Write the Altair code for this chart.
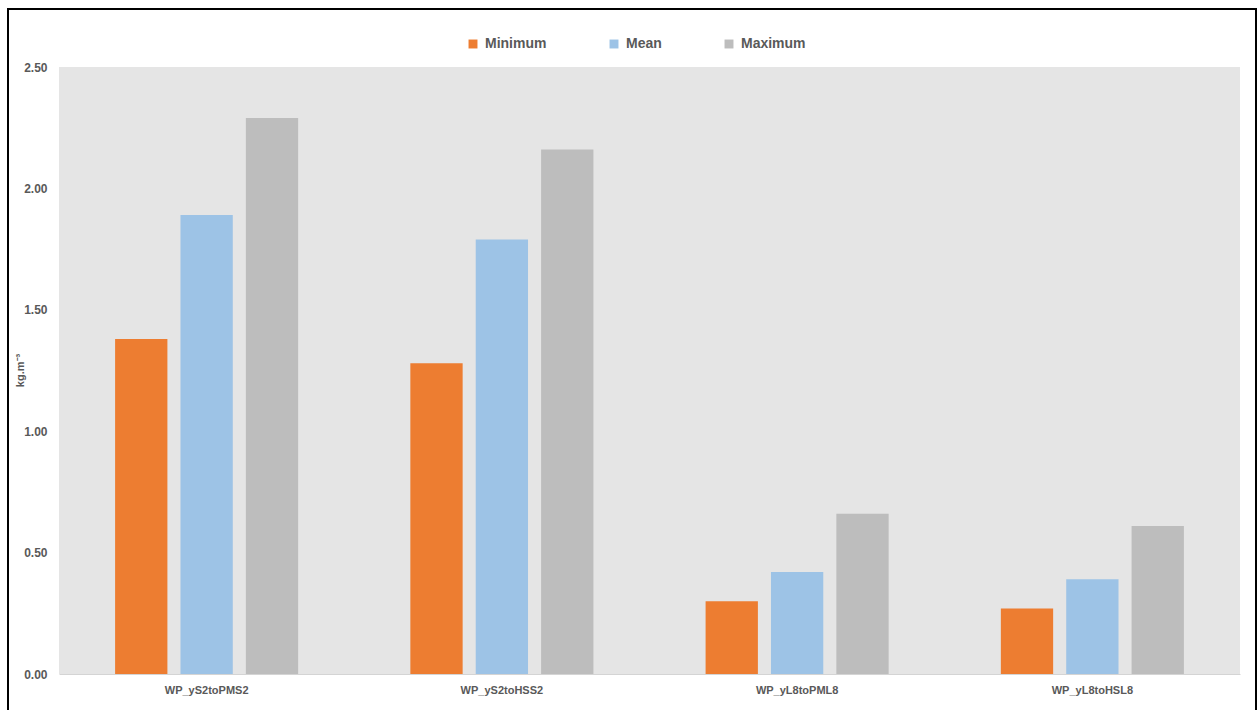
import altair as alt
import pandas as pd

# Water productivity per scenario (kg per cubic metre)
scenarios = ["WP_yS2toPMS2", "WP_yS2toHSS2", "WP_yL8toPML8", "WP_yL8toHSL8"]
stats = ["Minimum", "Mean", "Maximum"]
minimum = [1.38, 1.28, 0.30, 0.27]
mean = [1.89, 1.79, 0.42, 0.39]
maximum = [2.29, 2.16, 0.66, 0.61]
colors = ["#ED7D31", "#9DC3E6", "#BDBDBD"]
y_ticks = [0.0, 0.5, 1.0, 1.5, 2.0, 2.5]

rows = []
for i, s in enumerate(scenarios):
    for stat, series in zip(stats, [minimum, mean, maximum]):
        rows.append({"scenario": s, "stat": stat, "value": series[i]})
df = pd.DataFrame(rows)

FONT = "Liberation Sans"
TEXT_GRAY = "#595959"

bars = alt.Chart(df).mark_bar().encode(
    x=alt.X(
        "scenario:N",
        sort=scenarios,
        scale=alt.Scale(paddingInner=0.38, paddingOuter=0.19),
        axis=alt.Axis(
            title=None,
            labelAngle=0,
            labelFont=FONT,
            labelFontSize=11,
            labelFontWeight="bold",
            labelColor=TEXT_GRAY,
            labelPadding=10,
            ticks=False,
            domain=True,
            domainColor="#d4d4d4",
            domainWidth=1,
        ),
    ),
    xOffset=alt.XOffset(
        "stat:N",
        sort=stats,
        scale=alt.Scale(paddingInner=0.2, paddingOuter=0),
    ),
    y=alt.Y(
        "value:Q",
        scale=alt.Scale(domain=[0, 2.5], nice=False),
        axis=alt.Axis(
            title="kg.m\u207b\u00b3",
            titleFont=FONT,
            titleFontSize=11,
            titleFontWeight="bold",
            titleColor=TEXT_GRAY,
            titleAngle=-90,
            titleX=-39,
            titleY=303,
            titleAlign="center",
            titleBaseline="middle",
            values=y_ticks,
            format=".2f",
            labelFont=FONT,
            labelFontSize=12,
            labelFontWeight="bold",
            labelColor=TEXT_GRAY,
            labelPadding=12,
            ticks=False,
            domain=False,
            grid=False,
        ),
    ),
    color=alt.Color(
        "stat:N",
        sort=stats,
        scale=alt.Scale(domain=stats, range=colors),
        legend=alt.Legend(
            title=None,
            orient="none",
            direction="horizontal",
            legendX=407,
            legendY=-30,
            symbolType="square",
            symbolSize=80,
            symbolStrokeWidth=0,
            labelFont=FONT,
            labelFontSize=14,
            labelFontWeight="bold",
            labelColor=TEXT_GRAY,
            labelOffset=5,
            columnPadding=60,
        ),
    ),
)

# Outer frame around the whole figure
frame = alt.Chart(pd.DataFrame({"k": [0]})).mark_rect(
    fill=None, stroke="#000000", strokeWidth=2, clip=False
).encode(
    x=alt.value(-51),
    x2=alt.value(1197),
    y=alt.value(-58),
    y2=alt.value(660),
)

chart = alt.layer(bars, frame).properties(
    width=1181,
    height=607,
    padding={"left": 59, "top": 67, "right": 18, "bottom": 36},
    autosize=alt.AutoSizeParams(type="none"),
    background="#ffffff",
).configure_view(
    fill="#E5E5E5",
    stroke=None,
)

chart.save("out.html", embed_options={"renderer": "svg", "actions": False})
